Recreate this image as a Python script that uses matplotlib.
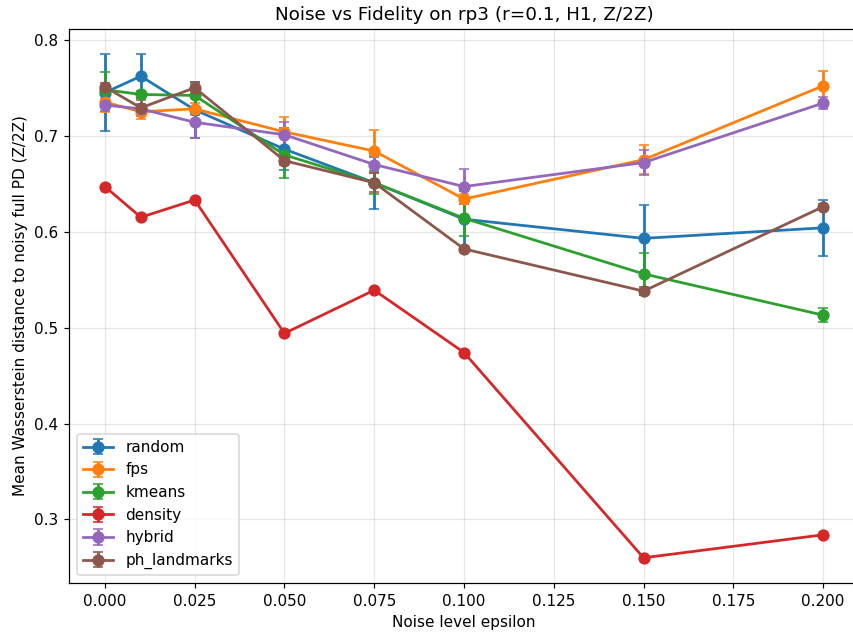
import matplotlib
matplotlib.use("Agg")
import matplotlib.pyplot as plt

eps = [0.0, 0.01, 0.025, 0.05, 0.075, 0.1, 0.15, 0.2]

random_mean = [0.745, 0.762, 0.727, 0.686, 0.651, 0.613, 0.593, 0.604]
random_err = [0.040, 0.023, 0.029, 0.022, 0.027, 0.029, 0.035, 0.029]
fps_mean = [0.735, 0.725, 0.728, 0.704, 0.684, 0.634, 0.675, 0.752]
fps_err = [0.010, 0.008, 0.006, 0.016, 0.022, 0.005, 0.015, 0.015]
kmeans_mean = [0.748, 0.743, 0.742, 0.680, 0.651, 0.614, 0.556, 0.513]
kmeans_err = [0.018, 0.004, 0.012, 0.024, 0.012, 0.019, 0.022, 0.007]
density_mean = [0.647, 0.615, 0.633, 0.494, 0.539, 0.474, 0.260, 0.284]
density_err = [0, 0, 0, 0, 0, 0, 0, 0]
hybrid_mean = [0.732, 0.728, 0.714, 0.701, 0.670, 0.647, 0.672, 0.734]
hybrid_err = [0.006, 0.005, 0.016, 0.013, 0.009, 0.018, 0.013, 0.006]
ph_mean = [0.751, 0.729, 0.750, 0.674, 0.651, 0.582, 0.538, 0.626]
ph_err = [0.004, 0.008, 0.006, 0.004, 0.010, 0.003, 0.004, 0.003]

series = [
    ("random", random_mean, random_err),
    ("fps", fps_mean, fps_err),
    ("kmeans", kmeans_mean, kmeans_err),
    ("density", density_mean, density_err),
    ("hybrid", hybrid_mean, hybrid_err),
    ("ph_landmarks", ph_mean, ph_err),
]

fig, ax = plt.subplots(figsize=(853 / 110, 639 / 110), dpi=110)
for name, mean, err in series:
    ax.errorbar(eps, mean, yerr=err, marker="o", markersize=7, capsize=3,
                linewidth=1.8, label=name)

ax.set_xlabel("Noise level epsilon")
ax.set_ylabel("Mean Wasserstein distance to noisy full PD (Z/2Z)")
ax.set_title("Noise vs Fidelity on rp3 (r=0.1, H1, Z/2Z)")
ax.grid(True, alpha=0.3)
ax.legend(loc="lower left")
fig.subplots_adjust(left=69 / 853, right=859 / 853, bottom=1 - 583 / 639, top=1 - 29 / 639)
fig.savefig("out.png")
